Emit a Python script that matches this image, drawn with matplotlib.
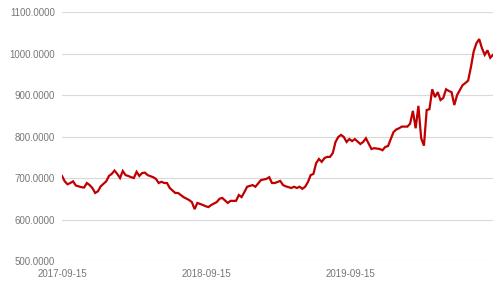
import numpy as np
import pandas as pd
import matplotlib
matplotlib.use("Agg")
import matplotlib.pyplot as plt
import matplotlib.dates as mdates

# weeks since 2017-09-15 and the value
weeks = [0, 1, 2, 3, 4, 5, 7, 8, 9, 10, 11, 12, 13, 14, 16, 17, 18, 19, 20, 21,
         22, 23, 24, 25, 26, 27, 28, 29, 30, 31, 33, 34, 35, 36, 37, 38, 39, 41, 42, 44,
         46, 47, 48, 49, 51, 52, 53, 54, 56, 57, 58, 60, 61, 63, 64, 65, 66, 67, 69, 70,
         72, 74, 75, 76, 77, 79, 80, 81, 83, 84, 85, 86, 87, 88, 89, 90, 91, 92, 93, 94,
         95, 96, 97, 98, 99, 100, 101, 102, 103, 104, 105, 106, 108, 109, 110, 112, 113, 115, 116, 117,
         118, 120, 121, 122, 123, 125, 126, 127, 128, 129, 130, 131, 132, 133, 134, 135, 136, 137, 138, 139,
         140, 141, 142, 143, 144, 145, 146, 147, 148, 149, 150, 151, 152, 153, 154, 155, 156]
values = [705, 692, 685, 688, 692, 682, 678, 677, 688, 683, 676, 664, 668, 680, 692, 705, 710, 718, 710, 700,
          717, 707, 705, 702, 700, 715, 705, 712, 713, 707, 702, 698, 688, 691, 688, 688, 676, 664, 664, 654,
          647, 642, 625, 640, 635, 632, 630, 635, 642, 650, 652, 640, 645, 645, 659, 654, 666, 679, 683, 679,
          695, 698, 702, 688, 688, 693, 683, 680, 676, 679, 676, 679, 674, 679, 690, 707, 710, 736, 746, 739,
          748, 751, 751, 760, 787, 799, 804, 799, 787, 794, 789, 794, 782, 787, 796, 770, 772, 770, 767, 775,
          777, 811, 817, 820, 824, 824, 831, 862, 820, 874, 796, 778, 864, 866, 914, 895, 907, 888, 893, 914,
          910, 907, 876, 900, 912, 924, 929, 935, 967, 1005, 1025, 1035, 1013, 997, 1008, 990, 997]

start = pd.Timestamp("2017-09-15")
dates = start + pd.to_timedelta(np.array(weeks) * 7, unit="D")
tick_dates = pd.to_datetime(["2017-09-15", "2018-09-15", "2019-09-15"])
yticks = [500, 600, 700, 800, 900, 1000, 1100]

plt.rcParams['font.family'] = ['Liberation Sans', 'DejaVu Sans']

fig = plt.figure(figsize=(5, 2.82), dpi=100)
ax = fig.add_axes([0.124, 0.0745, 0.862, 0.8825])

ax.plot(dates, values, color="#C00000", linewidth=1.6, solid_joinstyle="miter")

ax.set_ylim(500, 1100)
ax.set_yticks(yticks)
ax.yaxis.set_major_formatter(plt.FuncFormatter(lambda v, p: f"{v:.4f}"))
ax.set_xlim(dates[0], dates[-1])
ax.set_xticks(tick_dates)
ax.xaxis.set_major_formatter(mdates.DateFormatter("%Y-%m-%d"))

ax.grid(axis="y", color="#d9d9d9", linewidth=0.8)
ax.set_axisbelow(True)
for s in ax.spines.values():
    s.set_visible(False)
ax.tick_params(axis="both", length=0, labelsize=7, labelcolor="#777777")
ax.tick_params(axis="y", pad=5)
ax.tick_params(axis="x", pad=6)

fig.savefig("out.png", dpi=100)
